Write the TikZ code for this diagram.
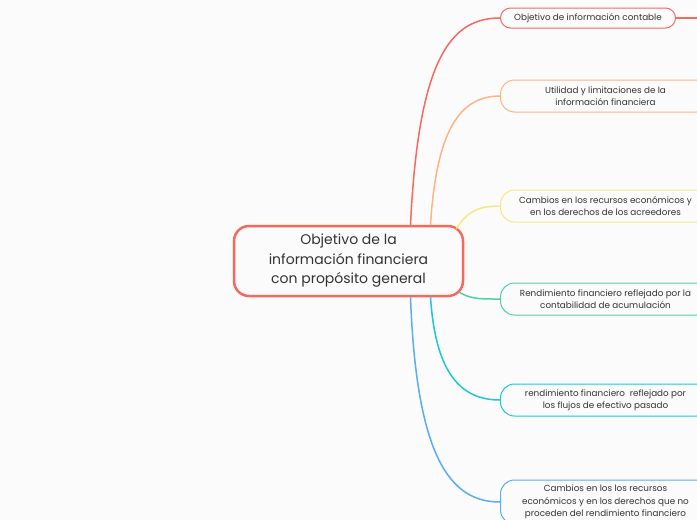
\documentclass[tikz,border=0pt]{standalone}
\usepackage{fontspec}
\setmainfont{Poppins}
\usepackage{tikz}
\definecolor{bgpage}{RGB}{251, 251, 251}
\definecolor{txtgray}{RGB}{51, 51, 51}
\definecolor{brred}{RGB}{247, 105, 95}
\definecolor{brorange}{RGB}{255, 180, 130}
\definecolor{bryellow}{RGB}{247, 234, 125}
\definecolor{brgreen}{RGB}{78, 211, 160}
\definecolor{brcyan}{RGB}{28, 200, 214}
\definecolor{brblue}{RGB}{90, 172, 245}

\begin{document}
\begin{tikzpicture}[x=1pt, y=-1pt,
	topic/.style={draw=brred, line width=2.5pt, rounded corners=15pt, fill=bgpage, text=txtgray,
		font=\fontsize{14}{19.5}\selectfont, align=center, minimum width=229pt, minimum height=70pt, inner sep=0pt},
	leaf/.style={draw, line width=1pt, rounded corners=14pt, fill=bgpage, text=txtgray,
		font=\fontsize{8.8}{12.3}\selectfont, align=center, anchor=west, minimum width=210pt, minimum height=32pt, inner sep=0pt},
	link/.style={line width=1.5pt}]
			\useasboundingbox (0,0) rectangle (697,520);
			\fill[bgpage] (0,0) rectangle (697,520);
			\clip (0,0) rectangle (697,520);

			% central topic
			\node[topic] (main) at (348.5,261) {Objetivo de la\\información financiera\\con propósito general};

			% subtopics, top to bottom
			\node[leaf, draw=brred, minimum width=175pt, minimum height=20pt, rounded corners=10pt] (obj) at (500,18) {Objetivo de información contable};
			\node[leaf, draw=brorange] (util) at (500,96) {Utilidad y limitaciones de la\\información financiera};
			\node[leaf, draw=bryellow] (camb) at (500,206) {Cambios en los recursos económicos y\\en los derechos de los acreedores};
			\node[leaf, draw=brgreen] (acum) at (500,299) {Rendimiento financiero reflejado por la\\contabilidad de acumulación};
			\node[leaf, draw=brcyan] (flujo) at (500,400) {rendimiento financiero\ \ reflejado por\\los flujos de efectivo pasado};
			\node[leaf, draw=brblue, minimum height=44pt] (noprc) at (500,502) {Cambios en los los recursos\\económicos y en los derechos que no\\proceden del rendimiento financiero};

			\coordinate (objout) at (700,18);

			% connectors
			\draw[link, brred] ([xshift=62pt]main.north) .. controls +(8,-165) and +(-50,0) .. (obj.west);
			\draw[link, brred] (obj.east) -- (objout);
			\draw[link, brorange] ([xshift=82pt]main.north) .. controls +(6,-95) and +(-40,0) .. (util.west);
			\draw[link, bryellow] ([xshift=-8pt, yshift=-4pt]main.north east) .. controls +(10,-15) and +(-25,0) .. (camb.west);
			\draw[link, brgreen] ([xshift=-5pt, yshift=5pt]main.south east) .. controls +(12,7) and +(-20,0) .. (acum.west);
			\draw[link, brcyan] ([xshift=82pt]main.south) .. controls +(5,75) and +(-40,0) .. (flujo.west);
			\draw[link, brblue] ([xshift=62pt]main.south) .. controls +(6,160) and +(-50,0) .. (noprc.west);

		\end{tikzpicture}
\end{document}
